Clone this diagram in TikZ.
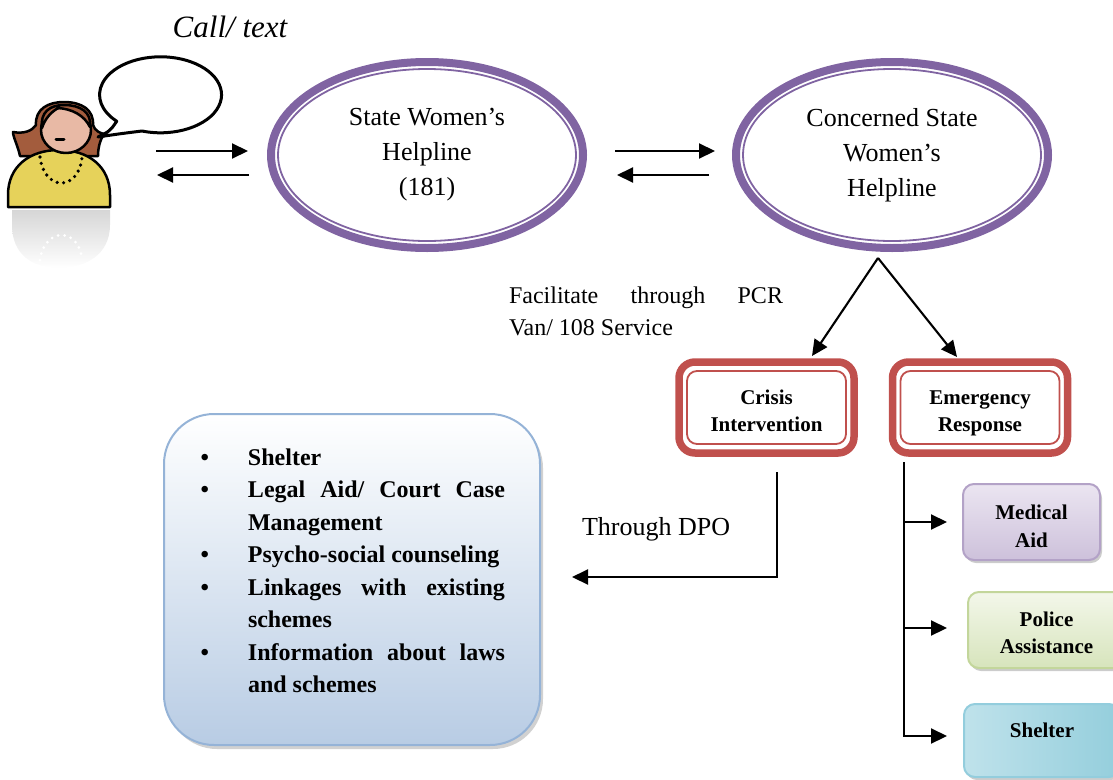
\documentclass[tikz,border=0pt]{standalone}
\usepackage{fontspec}
\setmainfont{Liberation Serif}
\usetikzlibrary{arrows.meta,shapes.geometric,shadows,calc}
\definecolor{purp}{HTML}{8064A2}
\definecolor{redc}{HTML}{C0504D}
\definecolor{hairc}{HTML}{A35C3D}
\definecolor{skin}{HTML}{E8B9A5}
\definecolor{yell}{HTML}{E6D25A}
\definecolor{svctop}{HTML}{FFFFFF}
\definecolor{svcbot}{HTML}{B8CCE4}
\definecolor{svcline}{HTML}{95B3D7}
\definecolor{medtop}{HTML}{EBE5F1}
\definecolor{medbot}{HTML}{CDC1DB}
\definecolor{medline}{HTML}{B3A2C7}
\definecolor{poltop}{HTML}{F3F7EA}
\definecolor{polbot}{HTML}{D7E4BC}
\definecolor{polline}{HTML}{C3D69B}
\definecolor{shlA}{HTML}{BFE2EB}
\definecolor{shlB}{HTML}{E2F1F5}
\definecolor{shlC}{HTML}{94CEDC}
\definecolor{shlline}{HTML}{93CDDD}
\begin{document}
\begin{tikzpicture}[x=1pt,y=-1pt,
  arr/.style={line width=2.1pt,-{Triangle[length=16pt,width=15pt]}},
  helpell/.style={ellipse,draw=purp,line width=8pt,minimum width=312pt,minimum height=186pt,
    align=center,font=\fontsize{26}{35}\selectfont,inner sep=0pt,outer sep=0pt},
  redbox/.style={rectangle,rounded corners=16pt,draw=redc,line width=7.5pt,minimum width=175pt,
    minimum height=91pt,align=center,inner sep=0pt,outer sep=0pt,
    font=\bfseries\fontsize{21}{27}\selectfont},
  subbox/.style={rectangle,rounded corners=11pt,line width=2pt,align=center,inner sep=0pt,
    outer sep=0pt,drop shadow={shadow xshift=2pt,shadow yshift=-3pt,fill=black!40,opacity=.5}},
  plain/.style={inner sep=0pt,outer sep=0pt}]
\useasboundingbox (0,0) rectangle (1113,779);
\clip (0,0) rectangle (1113,779);

% ---------- woman icon ----------
\begin{scope}[line width=2.5pt,line join=round]
  \shade[top color=black!16,bottom color=white]
    (12,210) -- (110,210) -- (110,225) .. controls (110,255) and (85,268) .. (59,268)
    .. controls (33,268) and (12,255) .. (12,225) -- cycle;
  \draw[white,line width=3pt,line cap=round,dash pattern=on 0pt off 6.5pt]
    (40,260) .. controls (44,228) and (78,226) .. (82,259);
  \filldraw[fill=hairc]
    (20,156) .. controls (18,146) and (13,137) .. (13,132)
    .. controls (24,134) and (32,131) .. (36,125)
    .. controls (35,109) and (48,102) .. (64,102)
    .. controls (82,102) and (94,110) .. (93,125)
    .. controls (95,131) and (100,133) .. (104,134)
    .. controls (100,140) and (98,148) .. (98,156) -- cycle;
  \filldraw[fill=yell]
    (8,207) -- (8,195) .. controls (8,166) and (30,150) .. (59,150)
    .. controls (88,150) and (110,166) .. (110,195) -- (110,207) -- cycle;
  \draw[line width=3.6pt,line cap=round,dash pattern=on 0pt off 6.5pt]
    (40,157) .. controls (44,191) and (78,192) .. (82,158);
  \filldraw[fill=skin] (66,130) ellipse [x radius=25pt,y radius=23pt];
  \filldraw[fill=hairc]
    (42,128) .. controls (40,112) and (50,105) .. (64,105)
    .. controls (80,105) and (92,112) .. (90,127)
    .. controls (84,115) and (72,109) .. (58,108)
    .. controls (50,113) and (45,119) .. (42,128) -- cycle;
  \draw[line width=3pt,line cap=round] (56,139) -- (64,139);
\end{scope}
% speech bubble
\filldraw[fill=white,line width=3pt,line join=round]
  (142,131) arc[start angle=252.3,end angle=584.1,x radius=61pt,y radius=38pt]
  .. controls (110,131) .. (98,137) .. controls (118,134) .. (142,131) -- cycle;

\node[plain,font=\itshape\fontsize{31}{36}\selectfont] (call) at (230,27) {Call/ text};

% ---------- helpline ellipses ----------
\node[helpell] (e1) at (427,155) {State Women’s\\Helpline\\(181)};
\draw[purp,line width=1.8pt] (e1.center) ellipse [x radius=149pt,y radius=86pt];
\node[helpell] (e2) at (892,155) {Concerned State\\Women’s\\Helpline};
\draw[purp,line width=1.8pt] (e2.center) ellipse [x radius=149pt,y radius=86pt];

\coordinate (w1) at (156,151);
\coordinate (w2) at (157,175);
\draw[arr] (w1) -- ([shift={(-23,-4)}]e1.west);
\draw[arr] ([shift={(-22,20)}]e1.west) -- (w2);
\draw[arr] ([shift={(32,-4)}]e1.east) -- ([shift={(-21,-4)}]e2.west);
\draw[arr] ([shift={(-27,20)}]e2.west) -- ([shift={(34,20)}]e1.east);

% ---------- crisis / emergency ----------
\node[redbox] (cr) at (766.5,407.5) {\rule{0pt}{22pt}Crisis\\Intervention};
\draw[redc,line width=1.8pt,rounded corners=10pt]
  ([shift={(8,9)}]cr.north west) rectangle ([shift={(-8,-9)}]cr.south east);
\node[redbox] (em) at (980,407.5) {\rule{0pt}{26pt}Emergency\\Response};
\draw[redc,line width=1.8pt,rounded corners=10pt]
  ([shift={(8,9)}]em.north west) rectangle ([shift={(-8,-9)}]em.south east);

\coordinate (apex) at ([shift={(-14,10)}]e2.south);
\draw[arr] (apex) -- ([shift={(45.5,-6)}]cr.north);
\draw[arr] (apex) -- ([shift={(-23,-5)}]em.north);

\node[plain,anchor=base west,font=\fontsize{24}{32}\selectfont] (fac) at (509,303)
  {\begin{tabular}[t]{@{}l@{}}\makebox[274pt][s]{Facilitate through PCR}\\Van/ 108 Service\end{tabular}};

% ---------- services box ----------
\node[rectangle,rounded corners=50pt,draw=svcline,line width=2pt,top color=svctop,bottom color=svcbot,
  minimum width=376pt,minimum height=331pt,outer sep=0pt,
  drop shadow={shadow xshift=3pt,shadow yshift=-4pt,fill=black!45,opacity=.4}] (svc) at (352,579.5) {};
\node[plain,anchor=base west,font=\bfseries\fontsize{24}{32.5}\selectfont] (lst) at (200.5,465)
  {\begin{tabular}[t]{@{}l@{}}
  \makebox[47.5pt][l]{•}Shelter\\
  \makebox[47.5pt][l]{•}\makebox[257pt][s]{Legal Aid/ Court Case}\\
  \hspace*{47.5pt}Management\\
  \makebox[47.5pt][l]{•}Psycho-social counseling\\
  \makebox[47.5pt][l]{•}\makebox[257pt][s]{Linkages with existing}\\
  \hspace*{47.5pt}schemes\\
  \makebox[47.5pt][l]{•}\makebox[257pt][s]{Information about laws}\\
  \hspace*{47.5pt}and schemes
  \end{tabular}};

\node[plain,anchor=base west,font=\fontsize{26}{32}\selectfont] (thr) at (582,535) {Through DPO};
\coordinate (dpo) at ([shift={(10.5,19)}]cr.south);
\draw[arr] (dpo) |- ([shift={(32,-2.5)}]svc.east);

% ---------- emergency sub-boxes ----------
\node[subbox,draw=medline,top color=medtop,bottom color=medbot,minimum width=137pt,minimum height=76pt,
  font=\bfseries\fontsize{21}{28}\selectfont] (med) at (1031.5,522) {\rule{0pt}{24pt}Medical\\Aid};
\node[subbox,draw=polline,top color=poltop,bottom color=polbot,minimum width=157pt,minimum height=76pt,
  font=\bfseries\fontsize{21}{27}\selectfont] (pol) at (1046.5,630) {\rule{0pt}{21pt}Police\\Assistance};
\node[subbox,draw=shlline,left color=shlA,middle color=shlB,right color=shlC,minimum width=156pt,
  minimum height=73pt,font=\bfseries\fontsize{21}{27}\selectfont] (shl) at (1042,740.5)
  {Shelter\rule[-20pt]{0pt}{20pt}};

\coordinate (etop) at ([shift={(-76,9)}]em.south);
\draw[arr] (etop) |- ([xshift=-16]med.west);
\draw[arr] (etop) |- ([shift={(-21,-2)}]pol.west);
\draw[arr] (etop) |- ([shift={(-17,-4.5)}]shl.west);
\end{tikzpicture}
\end{document}
